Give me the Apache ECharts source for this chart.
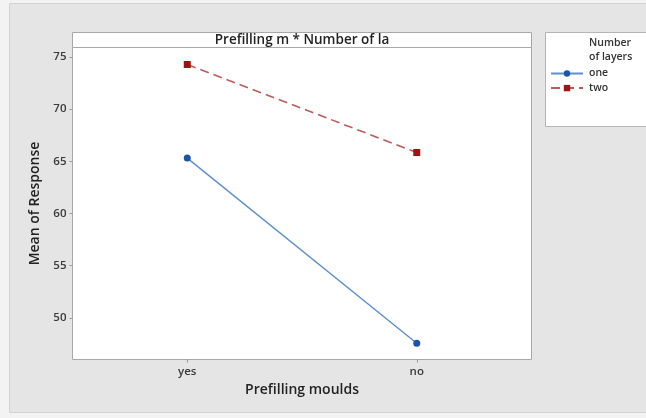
<!DOCTYPE html>
<html>
<head>
<meta charset="utf-8">
<script src="https://cdn.jsdelivr.net/npm/echarts@6/dist/echarts.min.js"></script>
<style>
html,body{margin:0;padding:0;background:#f3f3f3;}
#c{width:646px;height:418px;}
</style>
</head>
<body>
<div id="c"></div>
<script>
const categories = ['yes', 'no'];
const seriesNames = ['one', 'two'];
const oneValues = [65.3, 47.55];
const twoValues = [74.27, 65.84];
const yTickValues = [50, 55, 60, 65, 70, 75];

const chart = echarts.init(document.getElementById('c'), null, {renderer: 'canvas'});
const FONT = 'Open Sans';
const option = {
  backgroundColor: 'transparent',
  animation: false,
  graphic: [
    {type: 'rect', z: -10, shape: {x: 9.5, y: 3.5, width: 640, height: 409}, style: {fill: '#e5e5e5', stroke: '#d2d2d2', lineWidth: 1}},
    {type: 'rect', z: 1, shape: {x: 72.5, y: 32.5, width: 459, height: 15}, style: {fill: '#ffffff', stroke: '#a8a8a8', lineWidth: 1}},
    {type: 'text', z: 2, x: 302, y: 40.5, style: {text: 'Prefilling m * Number of la', font: '600 13.5px "Open Sans"', fill: '#222', align: 'center', verticalAlign: 'middle'}},
    {type: 'rect', z: 1, shape: {x: 545.5, y: 32.5, width: 110, height: 94}, style: {fill: '#ffffff', stroke: '#b4b4b4', lineWidth: 1}},
    {type: 'text', z: 2, x: 589, y: 36, style: {text: 'Number\nof layers', font: '600 10.5px "Open Sans"', lineHeight: 14, fill: '#333', align: 'left', verticalAlign: 'top'}}
  ],
  legend: {
    orient: 'vertical',
    left: 550,
    top: 66.2,
    itemWidth: 32,
    itemHeight: 8,
    itemGap: 0,
    padding: 0,
    data: seriesNames,
    textStyle: {fontFamily: FONT, fontSize: 10.5, fontWeight: 600, color: '#333', lineHeight: 14.6, padding: [0, 0, 0, 1]},
    z: 5
  },
  grid: {
    left: 72.5, right: 114.5, top: 47.5, bottom: 58.5,
    show: true, backgroundColor: '#ffffff', borderColor: '#a8a8a8', borderWidth: 1,
    containLabel: false
  },
  xAxis: {
    type: 'category',
    data: categories,
    boundaryGap: true,
    name: 'Prefilling moulds',
    nameLocation: 'middle',
    nameGap: 24,
    nameTextStyle: {fontFamily: FONT, fontSize: 14, fontWeight: 600, color: '#222'},
    axisLine: {show: false},
    axisTick: {show: true, alignWithLabel: true, length: 3, lineStyle: {color: '#999'}},
    axisLabel: {margin: 6, fontFamily: FONT, fontSize: 11.5, fontWeight: 600, color: '#3a3a3a'},
    splitLine: {show: false}
  },
  yAxis: {
    type: 'value',
    min: 46,
    max: 75.9,
    name: 'Mean of Response',
    nameLocation: 'middle',
    nameGap: 28,
    nameTextStyle: {fontFamily: FONT, fontSize: 14, fontWeight: 600, color: '#222'},
    axisLine: {show: false},
    axisTick: {show: true, length: 3, customValues: yTickValues, lineStyle: {color: '#999'}},
    axisLabel: {margin: 6, customValues: yTickValues, fontFamily: FONT, fontSize: 11.5, fontWeight: 600, color: '#3a3a3a'},
    splitLine: {show: false}
  },
  series: [
    {
      name: seriesNames[0], type: 'line', data: oneValues,
      symbol: 'circle', symbolSize: 7,
      lineStyle: {color: '#5d8fca', width: 1.4, type: 'solid'},
      itemStyle: {color: '#1a55a6'},
      z: 3
    },
    {
      name: seriesNames[1], type: 'line', data: twoValues,
      symbol: 'rect', symbolSize: 7,
      lineStyle: {color: '#c05a5a', width: 1.6, type: [9, 5]},
      itemStyle: {color: '#9e1414'},
      z: 3
    }
  ]
};
chart.setOption(option);
</script>
</body>
</html>
